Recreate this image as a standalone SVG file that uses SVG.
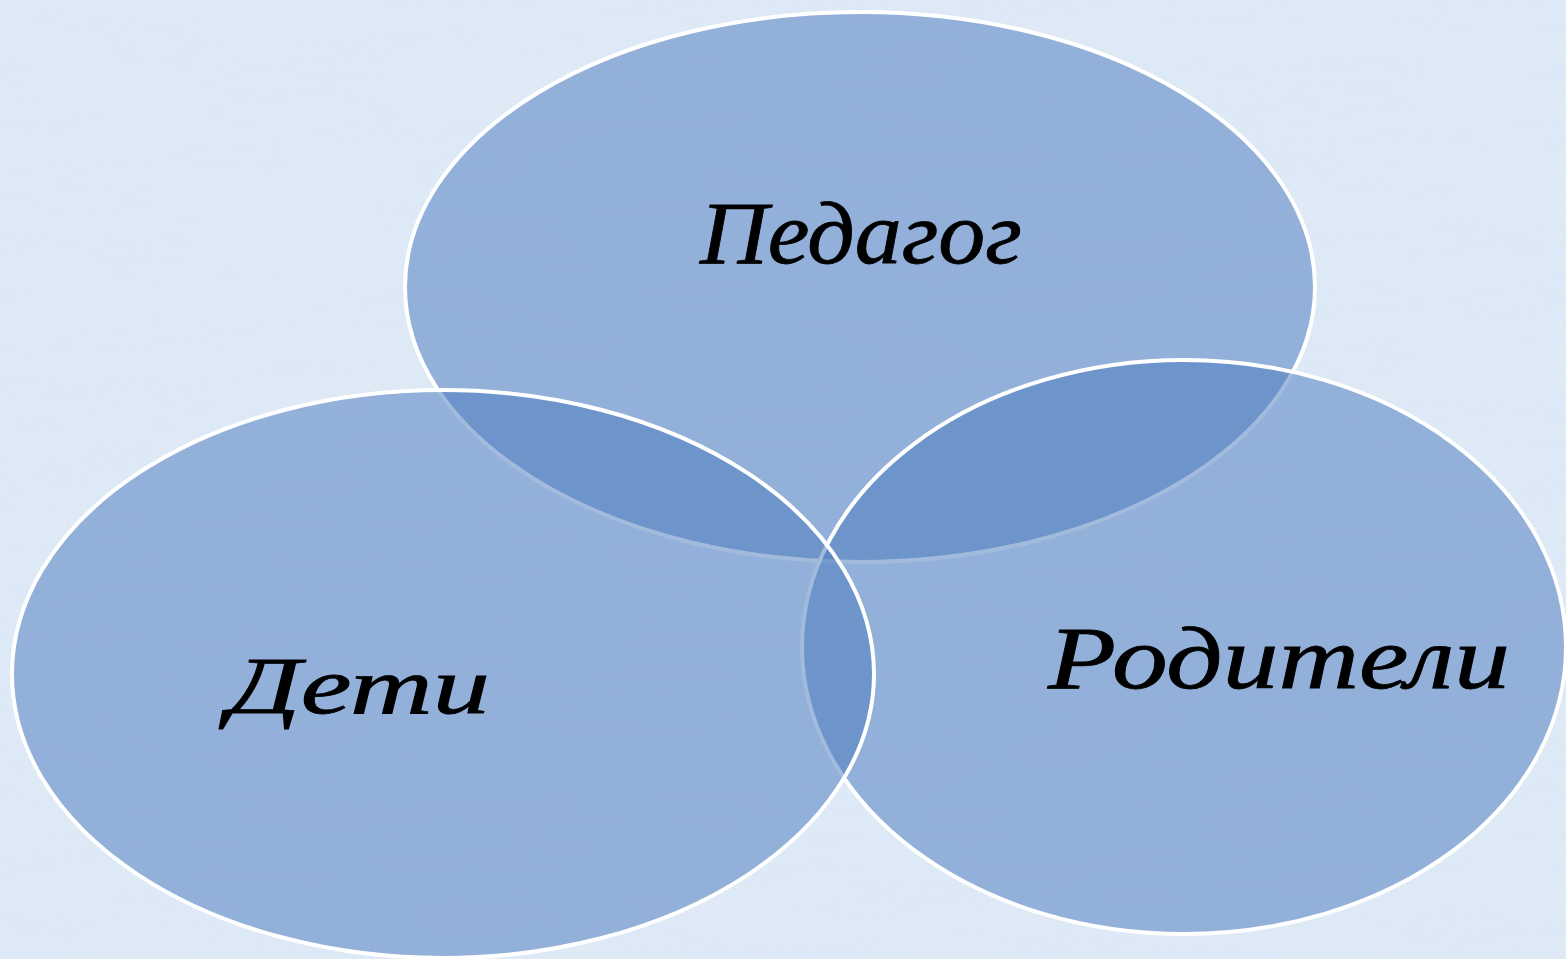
<svg xmlns="http://www.w3.org/2000/svg" width="1566" height="959" viewBox="0 0 1566 959">
<defs>
<filter id="tex" x="0" y="0" width="100%" height="100%">
<feTurbulence type="fractalNoise" baseFrequency="0.005 0.035" numOctaves="3" seed="7" result="n"/>
<feColorMatrix in="n" type="matrix" values="0 0 0 0 0.76  0 0 0 0 0.83  0 0 0 0 0.92  0 0 0 1.6 -0.6"/>
</filter>
<style>
.c{fill:#4c7dbe;fill-opacity:0.52;stroke:#ffffff;stroke-width:4}
.t{font-family:"Liberation Serif","DejaVu Serif",serif;font-style:italic;fill:#000000;stroke:#000000;stroke-width:0.8}
</style>
</defs>
<rect width="1566" height="959" fill="#dde9f6"/>
<rect width="1566" height="959" filter="url(#tex)" opacity="0.7"/>
<g id="pedagog">
<ellipse class="c" cx="860" cy="287" rx="455" ry="275"/>
<text class="t" x="700" y="263" font-size="88" textLength="322" lengthAdjust="spacingAndGlyphs">Педагог</text>
</g>
<g id="roditeli">
<ellipse class="c" cx="1184" cy="647" rx="382" ry="287"/>
<text class="t" x="1048" y="688" font-size="88" textLength="462" lengthAdjust="spacingAndGlyphs">Родители</text>
</g>
<g id="deti">
<ellipse class="c" cx="443" cy="674" rx="431" ry="284"/>
<text class="t" x="228" y="713" font-size="80" textLength="262" lengthAdjust="spacingAndGlyphs">Дети</text>
</g>
<g id="connectors"/>
</svg>
